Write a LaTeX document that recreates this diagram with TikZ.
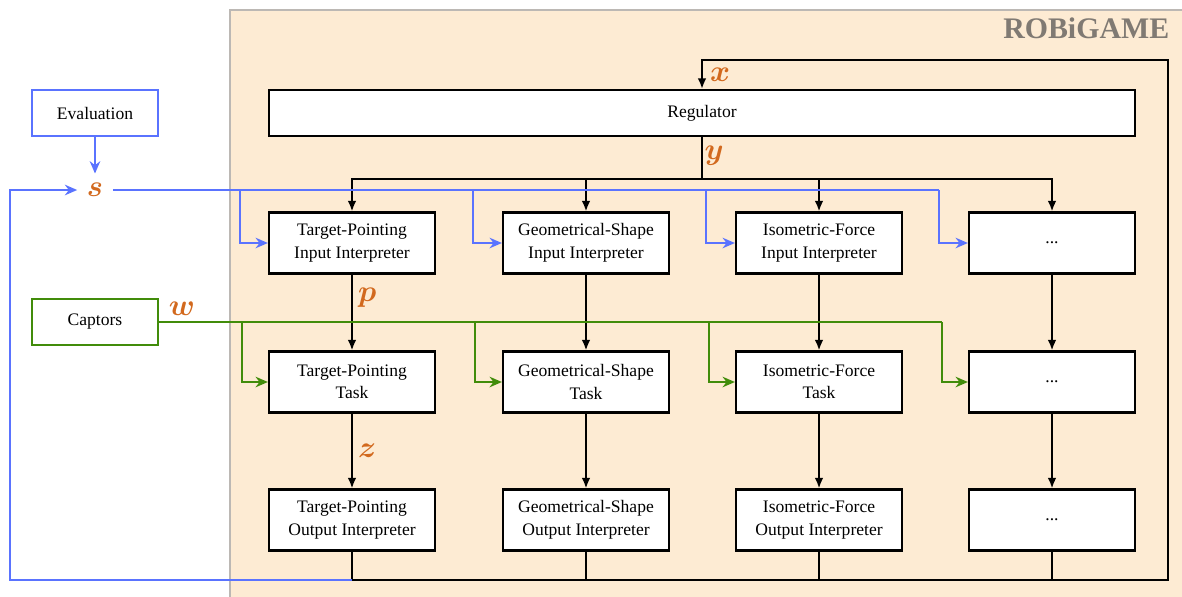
\documentclass[tikz,border=0pt]{standalone}
\usepackage{amsmath}
\usepackage{fontspec}
\setmainfont{Liberation Serif}
\usepackage{tikz}
\usetikzlibrary{positioning, calc}
\usetikzlibrary{arrows.meta}
\definecolor{robiback}{RGB}{253,235,211}
\definecolor{robiline}{RGB}{188,184,180}
\definecolor{robititle}{RGB}{128,122,115}
\definecolor{sigblue}{RGB}{90,115,255}
\definecolor{siggreen}{RGB}{65,140,10}
\definecolor{sigorange}{RGB}{210,105,30}
\begin{document}
\begin{tikzpicture}[x=0.02cm,y=-0.02cm,line width=1.1pt,>={Latex[length=6pt,width=5pt]}]
	\def \rowin{243}
	\def \rowtask{382}
	\def \rowout{520}
	\tikzstyle{b-node}=[draw=black,fill=white,line width=1.3pt,align=center,font=\fontsize{10}{12.8}\selectfont,minimum width=3.32cm,minimum height=1.22cm,inner sep=2pt]
	\tikzstyle{e-node}=[fill=white,line width=1.3pt,align=center,minimum width=2.52cm,minimum height=0.92cm,inner sep=2pt]
	\tikzstyle{sig}=[text=sigorange,font=\fontsize{17}{20}\selectfont,inner sep=1pt]
	\tikzstyle{c-arrow}=[->,>={Stealth[length=7pt,width=6pt]}]
	\useasboundingbox (0,0) rectangle (1182,596);
	% frame
	\draw[robiline,fill=robiback,line width=1.2pt] (230,10) rectangle (1210,630);
	\node[anchor=east,text=robititle,font=\fontsize{17}{20}\selectfont\bfseries] (title) at (1176,28) {ROBiGAME};
	
	% outside
	\node[e-node,draw=sigblue] 	(eval)	at (95,113)		{Evaluation};
	\node[e-node,draw=siggreen] 	(capt)	at (95,322)		{Captors};
	\node[sig,inner sep=5pt] 	(s)	at (95,190)		{$\boldsymbol{s}$};
	
	% regulator
	\node[b-node,minimum width=17.32cm,minimum height=0.92cm] 	(reg)	at (702,113)		{Regulator};
	
	% input interpreters
	\node[b-node] 	(in0)	at (352,\rowin)		{Target-Pointing\\Input Interpreter};
	\node[b-node] 	(in1)	at (586,\rowin)		{Geometrical-Shape\\Input Interpreter};
	\node[b-node] 	(in2)	at (819,\rowin)		{Isometric-Force\\Input Interpreter};
	\node[b-node] 	(in3)	at (1052,\rowin)	{...};
	
	% tasks
	\node[b-node] 	(tk0)	at (352,\rowtask)	{Target-Pointing\\Task};
	\node[b-node] 	(tk1)	at (586,\rowtask)	{Geometrical-Shape\\Task};
	\node[b-node] 	(tk2)	at (819,\rowtask)	{Isometric-Force\\Task};
	\node[b-node] 	(tk3)	at (1052,\rowtask)	{...};
	
	% output interpreters
	\node[b-node] 	(out0)	at (352,\rowout)	{Target-Pointing\\Output Interpreter};
	\node[b-node] 	(out1)	at (586,\rowout)	{Geometrical-Shape\\Output Interpreter};
	\node[b-node] 	(out2)	at (819,\rowout)	{Isometric-Force\\Output Interpreter};
	\node[b-node] 	(out3)	at (1052,\rowout)	{...};
	
	% junctions
	\coordinate (yj) at (702,179);
	\coordinate (fb) at (1168,580);
	\coordinate (fbtop) at (1168,60);
	\coordinate (back) at (10,580);
	\coordinate (sj0) at (240,190);
	\coordinate (sj1) at (473,190);
	\coordinate (sj2) at (706,190);
	\coordinate (sj3) at (939,190);
	\coordinate (wj0) at (242,322);
	\coordinate (wj1) at (475,322);
	\coordinate (wj2) at (709,322);
	\coordinate (wj3) at (942,322);
	
	% regulator to interpreters
	\draw (reg.south) -- node[sig,right,pos=0.45] {$\boldsymbol{y}$} (yj);
	\draw[->] (yj) -| (in0.north);
	\draw[->] (yj) -| (in1.north);
	\draw[->] (yj) -| (in2.north);
	\draw[->] (yj) -| (in3.north);
	
	% columns
	\draw[->] (in0) -- node[sig,right=2pt,pos=0.3] {$\boldsymbol{p}$} (tk0);
	\draw[->] (in1) -- (tk1);
	\draw[->] (in2) -- (tk2);
	\draw[->] (in3) -- (tk3);
	\draw[->] (tk0) -- node[sig,right=2pt,pos=0.5] {$\boldsymbol{z}$} (out0);
	\draw[->] (tk1) -- (out1);
	\draw[->] (tk2) -- (out2);
	\draw[->] (tk3) -- (out3);
	
	% feedback
	\draw[->] (out0.south) |- (fb) -- (fbtop) -| node[sig,right=3pt,pos=0.75] {$\boldsymbol{x}$} (reg.north);
	\draw (out1.south) -- (out1.south |- fb);
	\draw (out2.south) -- (out2.south |- fb);
	\draw (out3.south) -- (out3.south |- fb);
	\draw[sigblue,c-arrow] (out0.south |- fb) -- (back) |- (s.west);
	
	% evaluation
	\draw[sigblue,c-arrow] (eval) -- (s);
	\draw[sigblue] (s.east) -- (sj3);
	\draw[sigblue,c-arrow] (sj0) |- (in0.west);
	\draw[sigblue,c-arrow] (sj1) |- (in1.west);
	\draw[sigblue,c-arrow] (sj2) |- (in2.west);
	\draw[sigblue,c-arrow] (sj3) |- (in3.west);
	
	% captors
	\draw[siggreen] (capt.east) -- (wj3);
	\node[sig,anchor=south west] (lw) at ([xshift=4pt,yshift=2pt]capt.east) {$\boldsymbol{w}$};
	\draw[siggreen,c-arrow] (wj0) |- (tk0.west);
	\draw[siggreen,c-arrow] (wj1) |- (tk1.west);
	\draw[siggreen,c-arrow] (wj2) |- (tk2.west);
	\draw[siggreen,c-arrow] (wj3) |- (tk3.west);
\end{tikzpicture}
\end{document}
